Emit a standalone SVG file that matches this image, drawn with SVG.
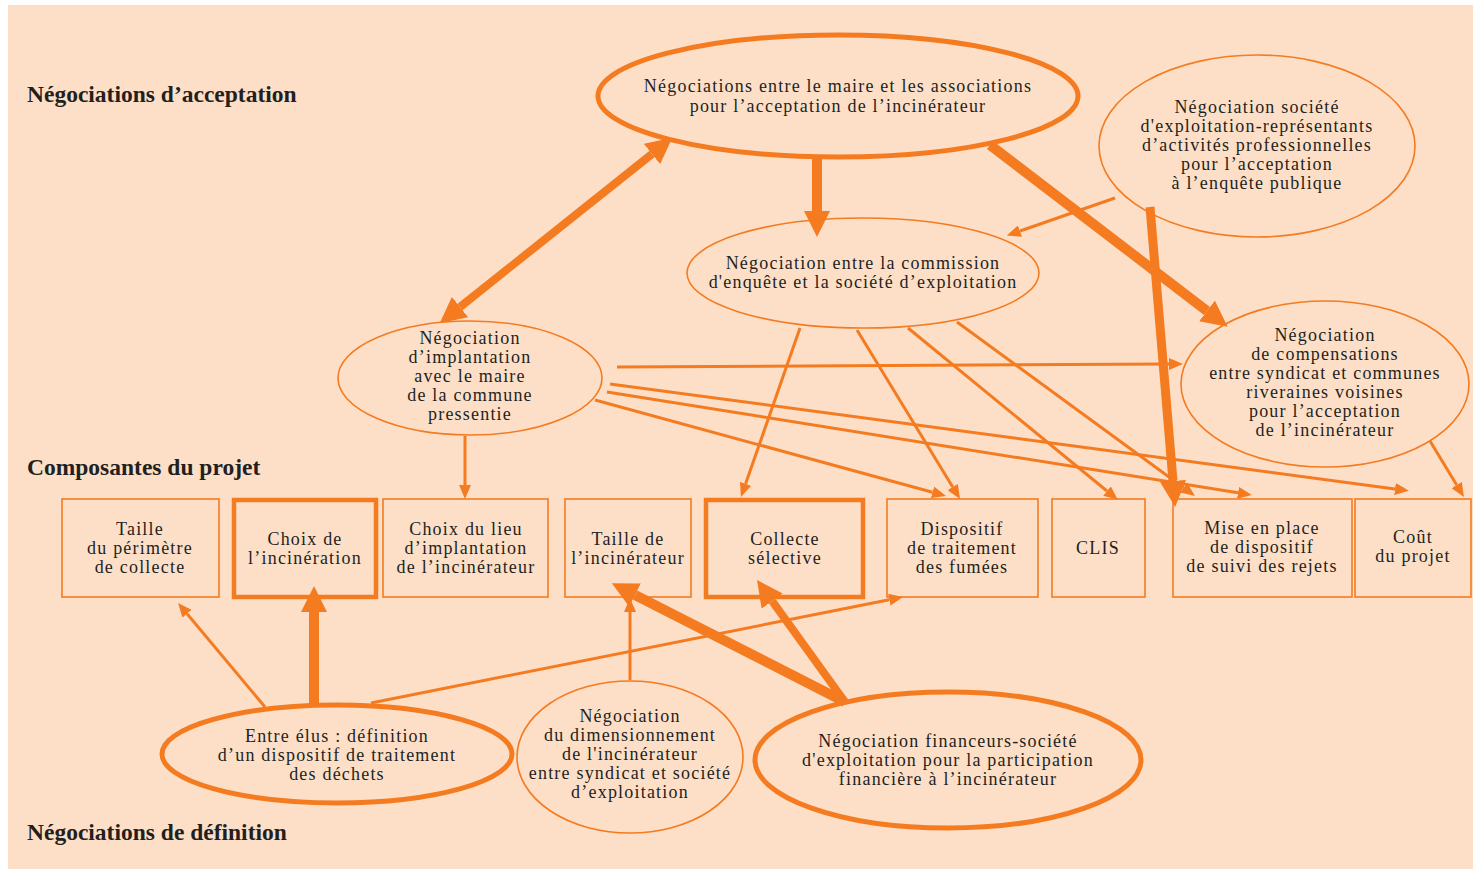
<svg xmlns="http://www.w3.org/2000/svg" width="1473" height="869" viewBox="0 0 1473 869">
<style>
text{font-family:"Liberation Serif","Times New Roman",serif;fill:#231f20;}
.t{font-size:18px;letter-spacing:1.2px;text-anchor:middle;}
.h{font-size:23.5px;font-weight:bold;}
.e1{fill:none;stroke:#f47b20;stroke-width:1.6;}
.e2{fill:none;stroke:#f47b20;stroke-width:5;}
.b1{fill:none;stroke:#f47b20;stroke-width:1.6;}
.b2{fill:none;stroke:#f47b20;stroke-width:4.5;}
.c1{stroke:#f47b20;stroke-width:3;fill:none;marker-end:url(#s);}
.c2{stroke:#f47b20;stroke-width:10;fill:none;marker-end:url(#b);}
</style>
<defs>
<marker id="s" viewBox="0 0 14 12" refX="0" refY="6" markerWidth="14" markerHeight="12" markerUnits="userSpaceOnUse" orient="auto-start-reverse"><path d="M0,0 L14,6 L0,12 z" fill="#f47b20"/></marker>
<marker id="b" viewBox="0 0 26 26" refX="0" refY="13" markerWidth="26" markerHeight="26" markerUnits="userSpaceOnUse" orient="auto-start-reverse"><path d="M0,0 L26,13 L0,26 z" fill="#f47b20"/></marker>
</defs>
<rect x="8" y="5" width="1465" height="864" fill="#fddfc8"/>
<g id="labels">
<text class="h" x="27" y="102">Négociations d’acceptation</text>
<text class="h" x="27" y="475">Composantes du projet</text>
<text class="h" x="27" y="840">Négociations de définition</text>
</g>
<g id="connectors">
<line x1="460" y1="307" x2="652" y2="154" style="stroke:#f47b20;stroke-width:8;marker-start:url(#b);marker-end:url(#b)"/>
<line class="c2" x1="817" y1="158" x2="817" y2="211"/>
<line class="c2" x1="990" y1="145" x2="1207" y2="311"/>
<line class="c1" x1="1115" y1="198" x2="1020" y2="231"/>
<line class="c2" x1="1150" y1="207" x2="1173" y2="481" style="stroke-width:9"/>
<line class="c1" x1="617" y1="367" x2="1169" y2="364"/>
<line class="c1" x1="465" y1="436" x2="465" y2="485"/>
<line class="c1" x1="595" y1="400" x2="932.5" y2="492.3"/>
<line class="c1" x1="607" y1="392" x2="1238" y2="492.8"/>
<line class="c1" x1="610" y1="384" x2="1395" y2="489"/>
<line class="c1" x1="800" y1="328" x2="745.6" y2="483.8"/>
<line class="c1" x1="857" y1="330" x2="952.7" y2="487"/>
<line class="c1" x1="908" y1="328" x2="1107" y2="491"/>
<line class="c1" x1="957" y1="322" x2="1183.7" y2="487.7"/>
<line class="c1" x1="1430" y1="441" x2="1456.7" y2="485"/>
<line class="c1" x1="265" y1="707" x2="187" y2="613.7"/>
<line class="c2" x1="314" y1="705" x2="314" y2="612"/>
<line class="c1" x1="371" y1="703" x2="889.3" y2="599.7"/>
<line class="c1" x1="630" y1="680" x2="630" y2="612"/>
<line class="c2" x1="845" y1="702" x2="635" y2="595"/>
<line class="c2" x1="845" y1="702" x2="772.2" y2="601.1" style="stroke-width:8"/>
</g>
<g id="n-acceptation">
<ellipse class="e2" cx="838" cy="96" rx="240" ry="61"/>
<text class="t" y="92"><tspan x="838">Négociations entre le maire et les associations</tspan><tspan x="838" dy="20">pour l’acceptation de l’incinérateur</tspan></text>
</g>
<g id="n-societe">
<ellipse class="e1" cx="1257" cy="146" rx="158" ry="91"/>
<text class="t" y="113"><tspan x="1257">Négociation société</tspan><tspan x="1257" dy="19">d'exploitation-représentants</tspan><tspan x="1257" dy="19">d’activités professionnelles</tspan><tspan x="1257" dy="19">pour l’acceptation</tspan><tspan x="1257" dy="19">à l’enquête publique</tspan></text>
</g>
<g id="n-commission">
<ellipse class="e1" cx="863" cy="273" rx="176" ry="55"/>
<text class="t" y="269"><tspan x="863">Négociation entre la commission</tspan><tspan x="863" dy="19">d'enquête et la société d’exploitation</tspan></text>
</g>
<g id="n-implantation">
<ellipse class="e1" cx="470" cy="378" rx="132" ry="57"/>
<text class="t" y="344"><tspan x="470">Négociation</tspan><tspan x="470" dy="19">d’implantation</tspan><tspan x="470" dy="19">avec le maire</tspan><tspan x="470" dy="19">de la commune</tspan><tspan x="470" dy="19">pressentie</tspan></text>
</g>
<g id="n-compensations">
<ellipse class="e1" cx="1325" cy="384" rx="144" ry="83"/>
<text class="t" y="341"><tspan x="1325">Négociation</tspan><tspan x="1325" dy="19">de compensations</tspan><tspan x="1325" dy="19">entre syndicat et communes</tspan><tspan x="1325" dy="19">riveraines voisines</tspan><tspan x="1325" dy="19">pour l’acceptation</tspan><tspan x="1325" dy="19">de l’incinérateur</tspan></text>
</g>
<g id="b-perimetre">
<rect class="b1" x="62" y="499" width="157" height="98"/>
<text class="t" y="535"><tspan x="140">Taille</tspan><tspan x="140" dy="19">du périmètre</tspan><tspan x="140" dy="19">de collecte</tspan></text>
</g>
<g id="b-incineration">
<rect class="b2" x="234" y="500" width="142" height="97"/>
<text class="t" y="545"><tspan x="305">Choix de</tspan><tspan x="305" dy="19">l’incinération</tspan></text>
</g>
<g id="b-lieu">
<rect class="b1" x="383" y="499" width="165" height="98"/>
<text class="t" y="535"><tspan x="466">Choix du lieu</tspan><tspan x="466" dy="19">d’implantation</tspan><tspan x="466" dy="19">de l’incinérateur</tspan></text>
</g>
<g id="b-taille">
<rect class="b1" x="565" y="499" width="126" height="98"/>
<text class="t" y="545"><tspan x="628">Taille de</tspan><tspan x="628" dy="19">l’incinérateur</tspan></text>
</g>
<g id="b-collecte">
<rect class="b2" x="706" y="500" width="157" height="97"/>
<text class="t" y="545"><tspan x="785">Collecte</tspan><tspan x="785" dy="19">sélective</tspan></text>
</g>
<g id="b-fumees">
<rect class="b1" x="887" y="499" width="151" height="98"/>
<text class="t" y="535"><tspan x="962">Dispositif</tspan><tspan x="962" dy="19">de traitement</tspan><tspan x="962" dy="19">des fumées</tspan></text>
</g>
<g id="b-clis">
<rect class="b1" x="1052" y="499" width="93" height="98"/>
<text class="t" x="1098" y="554">CLIS</text>
</g>
<g id="b-suivi">
<rect class="b1" x="1173" y="499" width="179" height="98"/>
<text class="t" y="534"><tspan x="1262">Mise en place</tspan><tspan x="1262" dy="19">de dispositif</tspan><tspan x="1262" dy="19">de suivi des rejets</tspan></text>
</g>
<g id="b-cout">
<rect class="b1" x="1355" y="499" width="116" height="98"/>
<text class="t" y="543"><tspan x="1413">Coût</tspan><tspan x="1413" dy="19">du projet</tspan></text>
</g>
<g id="n-elus">
<ellipse class="e2" cx="337" cy="754" rx="175" ry="49"/>
<text class="t" y="742"><tspan x="337">Entre élus : définition</tspan><tspan x="337" dy="19">d’un dispositif de traitement</tspan><tspan x="337" dy="19">des déchets</tspan></text>
</g>
<g id="n-dimensionnement">
<ellipse class="e1" cx="630" cy="757" rx="113" ry="76"/>
<text class="t" y="722"><tspan x="630">Négociation</tspan><tspan x="630" dy="19">du dimensionnement</tspan><tspan x="630" dy="19">de l'incinérateur</tspan><tspan x="630" dy="19">entre syndicat et société</tspan><tspan x="630" dy="19">d’exploitation</tspan></text>
</g>
<g id="n-financeurs">
<ellipse class="e2" cx="948" cy="760" rx="193" ry="68"/>
<text class="t" y="747"><tspan x="948">Négociation financeurs-société</tspan><tspan x="948" dy="19">d'exploitation pour la participation</tspan><tspan x="948" dy="19">financière à l’incinérateur</tspan></text>
</g>
</svg>
